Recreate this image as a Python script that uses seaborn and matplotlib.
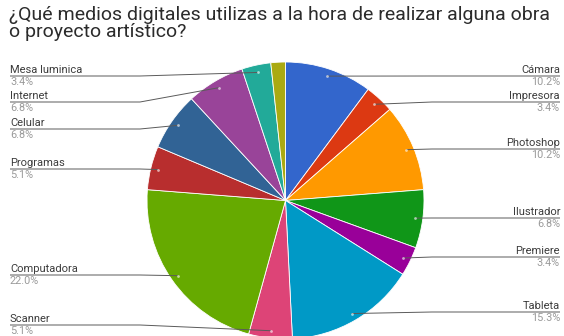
import matplotlib
matplotlib.use("Agg")
import matplotlib.pyplot as plt
import numpy as np
import seaborn as sns

# Survey answers (share of respondents, %), clockwise from the top
categories = ["Cámara", "Impresora", "Photoshop", "Ilustrador", "Premiere",
              "Tableta", "Scanner", "Computadora", "Programas", "Celular",
              "Internet", "Mesa luminica", "Otro"]
shares = [10.2, 3.4, 10.2, 6.8, 3.4, 15.3, 5.1, 22.0, 5.1, 6.8, 6.8, 3.4, 1.7]
pct_labels = ["10.2%", "3.4%", "10.2%", "6.8%", "3.4%", "15.3%", "5.1%",
              "22.0%", "5.1%", "6.8%", "6.8%", "3.4%", None]

slice_colors = ["#3366cc", "#dc3912", "#ff9900", "#109618", "#990099",
                "#0099c6", "#dd4477", "#66aa00", "#b82e2e", "#316395",
                "#994499", "#22aa99", "#aaaa11"]

# Label placement: side and the y (pixels from top) of each underline
label_side = ["R", "R", "R", "R", "R", "R", "L", "L", "L", "L", "L", "L", None]
label_line_y = [76, 102, 149, 218, 257, 312, 325, 275, 169, 129, 102, 76, None]

W, H = 564, 336
sns.set_theme(style="white")
plt.rcParams["font.family"] = ["Roboto", "DejaVu Sans"]
palette = sns.color_palette(slice_colors)

fig = plt.figure(figsize=(W / 100, H / 100), dpi=100)
ax = fig.add_axes([0, 0, 1, 1])


def py(y):
    """Convert a top-down pixel row to axis coordinates."""
    return H - y


cx, cy, r = 285.5, py(200.5), 138.5
wedges, _ = ax.pie(shares, colors=palette, startangle=90, counterclock=False,
                   center=(cx, cy), radius=r, frame=True,
                   wedgeprops=dict(edgecolor="white", linewidth=0.6))
ax.set_xlim(0, W)
ax.set_ylim(0, H)
ax.set_aspect("equal")
ax.axis("off")

ax.text(9, py(6.5), "¿Qué medios digitales utilizas a la hora de realizar alguna obra\n"
        "o proyecto artístico?", ha="left", va="top", fontsize=14,
        color="#2b2b2b", linespacing=0.9)

total = sum(shares)
start = 90.0
for i, (name, val) in enumerate(zip(categories, shares)):
    span = 360.0 * val / total
    mid = np.deg2rad(start - span / 2)
    start -= span
    side = label_side[i]
    if side is None:
        continue
    dx, dy = cx + 0.946 * r * np.cos(mid), cy + 0.946 * r * np.sin(mid)
    ax.scatter([dx], [dy], s=4, color="white", alpha=0.6, zorder=5, linewidths=0)
    ly = py(label_line_y[i])
    if side == "L":
        xs = [10, 140, dx]
        tx, ha = 10, "left"
    else:
        xs = [560, 432, dx]
        tx, ha = 560, "right"
    ax.plot(xs, [ly, ly, dy], color="#5a5a5a", lw=0.7, zorder=4,
            solid_capstyle="butt")
    ax.text(tx, ly + 1.3, name, ha=ha, va="bottom", fontsize=8, color="#3c3c3c")
    ax.text(tx, ly - 1.2, pct_labels[i], ha=ha, va="top", fontsize=7.8,
            color="#9a9a9a")

fig.savefig("out.png", dpi=100)
